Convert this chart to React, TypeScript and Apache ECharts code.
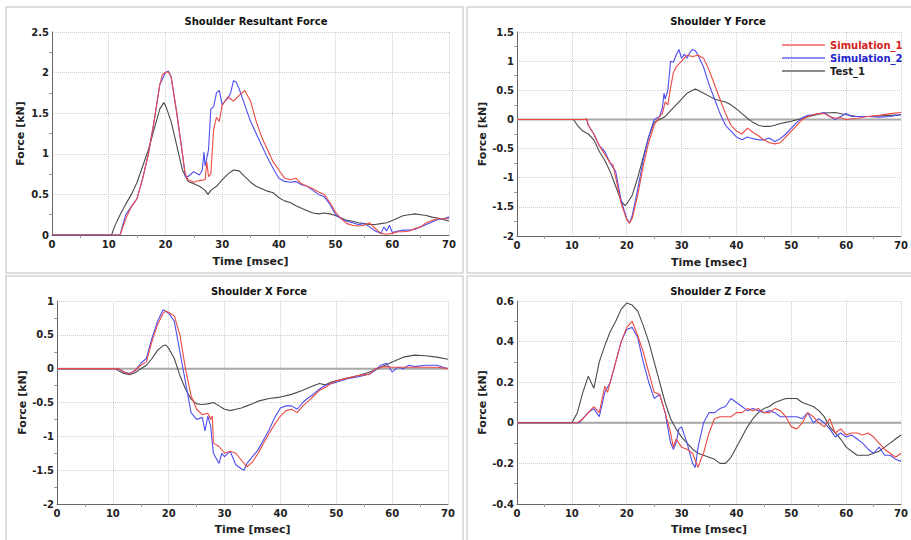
import React, { useEffect, useRef } from "react";
import * as echarts from "echarts";

type P = [number, number][];

const panelTitles = ["Shoulder Resultant Force", "Shoulder Y Force", "Shoulder X Force", "Shoulder Z Force"];
const seriesNames = ["Simulation_1", "Simulation_2", "Test_1"];
const xName = "Time [msec]";
const yName = "Force [kN]";
const yRanges = [
  [0, 2.5, 0.5],
  [-2, 1.5, 0.5],
  [-2, 1, 0.5],
  [-0.4, 0.6, 0.2],
];

const resSim1: P = [[0,0],[12,0],[13,0.2],[14,0.35],[15,0.45],[16,0.7],[17,1.0],[18,1.4],[19,1.85],[19.5,1.98],[20,2.0],[20.5,2.01],[21,1.95],[22,1.5],[23,1.0],[23.5,0.75],[24,0.68],[25,0.65],[26,0.67],[27,0.68],[27.3,0.9],[27.6,0.72],[28,0.75],[28.5,1.3],[29,1.45],[29.5,1.4],[30,1.6],[31,1.7],[32,1.65],[33,1.72],[34,1.78],[35,1.65],[36,1.4],[37,1.2],[38,1.05],[39,0.9],[40,0.8],[41,0.7],[42,0.68],[43,0.7],[44,0.63],[45,0.6],[46,0.57],[47,0.53],[48,0.5],[49,0.4],[50,0.28],[51,0.2],[52,0.14],[53,0.12],[54,0.11],[55,0.12],[56,0.15],[57,0.08],[58,0.02],[59,0.01],[60,0.02],[61,0.04],[62,0.04],[63,0.05],[64,0.08],[65,0.1],[66,0.15],[67,0.18],[68,0.2],[69,0.2],[70,0.2]];
const resSim2: P = [[0,0],[12,0],[13,0.25],[14,0.35],[15,0.45],[16,0.7],[17,1.0],[18,1.4],[19,1.85],[20,2.0],[20.5,2.02],[21,1.95],[22,1.5],[23,1.0],[23.5,0.72],[24,0.72],[25,0.78],[26,0.74],[26.5,0.8],[26.8,1.02],[27,0.85],[27.3,0.95],[27.6,1.05],[28,1.55],[28.5,1.58],[29,1.75],[29.5,1.78],[30,1.6],[30.5,1.65],[31,1.68],[31.5,1.75],[32,1.9],[32.5,1.88],[33,1.8],[34,1.6],[35,1.4],[36,1.25],[37,1.1],[38,0.95],[39,0.82],[40,0.7],[41,0.66],[42,0.65],[43,0.66],[44,0.62],[45,0.6],[46,0.55],[47,0.5],[48,0.47],[49,0.38],[50,0.25],[51,0.2],[52,0.17],[53,0.15],[54,0.13],[55,0.14],[56,0.1],[57,0.05],[58,0.02],[58.5,0.1],[59,0.05],[59.5,0.12],[60,0.03],[61,0.05],[62,0.06],[63,0.06],[64,0.07],[65,0.1],[66,0.13],[67,0.16],[68,0.19],[69,0.2],[70,0.22]];
const resTest: P = [[0,0],[10.5,0],[11,0.1],[12,0.25],[13,0.38],[14,0.5],[15,0.65],[16,0.85],[17,1.05],[18,1.3],[19,1.55],[19.7,1.63],[20,1.6],[21,1.4],[22,1.1],[23,0.8],[24,0.66],[25,0.63],[26,0.6],[27,0.55],[27.5,0.5],[28,0.55],[29,0.6],[30,0.68],[31,0.75],[32,0.8],[33,0.79],[34,0.72],[35,0.65],[36,0.6],[37,0.57],[38,0.54],[39,0.52],[40,0.46],[41,0.42],[42,0.4],[43,0.36],[44,0.33],[45,0.3],[46,0.27],[47,0.26],[48,0.27],[49,0.26],[50,0.24],[51,0.21],[52,0.18],[53,0.17],[54,0.15],[55,0.14],[56,0.13],[57,0.13],[58,0.14],[59,0.15],[60,0.18],[61,0.21],[62,0.24],[63,0.25],[64,0.26],[65,0.25],[66,0.24],[67,0.22],[68,0.21],[69,0.19],[70,0.17]];

const ySim1: P = [[0,0],[12.5,0],[12.7,0.02],[13,-0.1],[14,-0.25],[15,-0.45],[16,-0.6],[17,-0.75],[17.5,-0.78],[18,-1.0],[19,-1.45],[20,-1.72],[20.5,-1.78],[21,-1.7],[22,-1.3],[23,-0.8],[24,-0.4],[25,-0.1],[26,0.05],[26.5,0.1],[27,0.3],[27.5,0.25],[28,0.55],[28.5,0.8],[29,0.9],[30,1.0],[30.5,1.05],[31,1.1],[32,1.08],[33,1.1],[34,1.05],[35,0.85],[36,0.6],[37,0.35],[38,0.1],[39,-0.1],[40,-0.2],[41,-0.25],[42,-0.15],[43,-0.22],[44,-0.28],[45,-0.35],[46,-0.4],[47,-0.42],[48,-0.4],[49,-0.3],[50,-0.2],[51,-0.1],[52,0.0],[53,0.05],[54,0.08],[55,0.1],[56,0.1],[57,0.05],[58,0.02],[59,0.03],[60,0.0],[62,0.02],[64,0.05],[66,0.07],[68,0.1],[70,0.12]];
const ySim2: P = [[0,0],[12.7,0],[13,-0.1],[14,-0.25],[15,-0.45],[16,-0.55],[17,-0.75],[18,-0.9],[19,-1.4],[20,-1.7],[20.5,-1.78],[21,-1.65],[22,-1.2],[23,-0.7],[24,-0.3],[25,0.0],[26,0.05],[26.5,0.2],[26.8,0.45],[27,0.35],[27.5,0.5],[28,1.0],[28.5,0.98],[29,1.1],[29.5,1.2],[30,1.05],[30.5,1.12],[31,1.05],[31.5,1.15],[32,1.2],[32.5,1.18],[33,1.1],[34,0.9],[35,0.6],[36,0.35],[37,0.1],[38,-0.1],[39,-0.2],[40,-0.3],[41,-0.35],[42,-0.3],[43,-0.33],[44,-0.35],[45,-0.35],[46,-0.32],[47,-0.38],[48,-0.33],[49,-0.25],[50,-0.15],[51,-0.05],[52,0.03],[53,0.07],[54,0.08],[55,0.1],[56,0.12],[57,0.05],[58,0.0],[59,0.05],[60,0.1],[61,0.05],[62,0.05],[64,0.05],[66,0.04],[68,0.05],[70,0.08]];
const yTest: P = [[0,0],[10.3,0],[11,-0.1],[12,-0.2],[13,-0.25],[14,-0.35],[15,-0.55],[16,-0.7],[17,-0.9],[18,-1.15],[19,-1.4],[19.7,-1.48],[20,-1.45],[21,-1.3],[22,-1.0],[23,-0.65],[24,-0.3],[25,-0.05],[26,0.0],[27,0.05],[28,0.15],[29,0.25],[30,0.35],[31,0.45],[32,0.5],[32.5,0.52],[33,0.5],[34,0.45],[35,0.4],[36,0.35],[37,0.32],[38,0.3],[39,0.25],[40,0.18],[41,0.1],[42,0.02],[43,-0.05],[44,-0.1],[45,-0.12],[46,-0.12],[47,-0.1],[48,-0.07],[49,-0.05],[50,-0.03],[52,0.02],[54,0.07],[56,0.11],[58,0.12],[60,0.08],[62,0.05],[64,0.05],[66,0.06],[68,0.07],[70,0.08]];

const xSim1: P = [[0,0],[11,0],[12,-0.05],[13,-0.08],[14,-0.02],[15,0.05],[16,0.1],[17,0.4],[18,0.65],[19,0.82],[19.5,0.85],[20,0.83],[21,0.78],[22,0.5],[23,0.0],[24,-0.4],[25,-0.6],[26,-0.68],[27,-0.66],[27.5,-0.75],[27.8,-0.7],[28,-1.1],[29,-1.15],[30,-1.25],[31,-1.22],[32,-1.25],[33,-1.35],[34,-1.45],[35,-1.38],[36,-1.25],[37,-1.1],[38,-0.95],[39,-0.82],[40,-0.7],[41,-0.62],[42,-0.6],[43,-0.65],[44,-0.55],[45,-0.48],[46,-0.4],[47,-0.32],[48,-0.28],[49,-0.22],[50,-0.18],[52,-0.14],[54,-0.1],[56,-0.08],[57,0.0],[58,0.02],[59,0.03],[60,0.02],[62,0.02],[64,0.02],[66,0.02],[68,0.02],[70,0.0]];
const xSim2: P = [[0,0],[11,0],[12,-0.05],[13,-0.07],[14,-0.03],[15,0.08],[16,0.15],[17,0.45],[18,0.7],[19,0.87],[20,0.82],[21,0.7],[22,0.25],[23,-0.2],[24,-0.65],[25,-0.75],[26,-0.72],[26.5,-0.92],[27,-0.7],[27.5,-0.85],[28,-1.25],[29,-1.4],[29.5,-1.25],[30,-1.3],[31,-1.22],[32,-1.42],[33,-1.48],[33.5,-1.5],[34,-1.4],[35,-1.3],[36,-1.2],[37,-1.05],[38,-0.9],[39,-0.72],[40,-0.58],[41,-0.55],[42,-0.55],[43,-0.6],[44,-0.5],[45,-0.43],[46,-0.37],[47,-0.3],[48,-0.25],[50,-0.2],[52,-0.15],[54,-0.12],[56,-0.08],[57,-0.02],[58,0.05],[59,0.08],[60,-0.05],[61,0.02],[62,0.0],[63,0.05],[64,0.03],[66,0.05],[68,0.05],[70,0.0]];
const xTest: P = [[0,0],[10.5,0],[11,-0.03],[12,-0.07],[13,-0.09],[14,-0.06],[15,0.0],[16,0.05],[17,0.15],[18,0.27],[19,0.34],[19.5,0.35],[20,0.3],[21,0.15],[22,-0.1],[23,-0.3],[24,-0.45],[25,-0.52],[26,-0.53],[27,-0.52],[28,-0.5],[29,-0.55],[30,-0.6],[31,-0.62],[32,-0.6],[33,-0.58],[34,-0.55],[35,-0.52],[36,-0.48],[38,-0.44],[40,-0.42],[42,-0.38],[44,-0.32],[46,-0.25],[47,-0.22],[48,-0.24],[49,-0.2],[50,-0.18],[52,-0.14],[54,-0.1],[56,-0.05],[58,0.02],[60,0.1],[62,0.17],[64,0.2],[66,0.19],[68,0.17],[70,0.14]];

const zSim1: P = [[0,0],[11,0],[12,0.02],[13,0.05],[14,0.08],[15,0.05],[16,0.18],[16.5,0.15],[17,0.2],[18,0.3],[19,0.4],[20,0.47],[21,0.5],[22,0.43],[23,0.35],[24,0.25],[25,0.15],[26,0.14],[27,0.05],[28,-0.05],[28.5,-0.12],[29,-0.08],[30,-0.12],[31,-0.13],[32,-0.15],[33,-0.22],[33.5,-0.18],[34,-0.15],[35,-0.05],[36,0.02],[37,0.03],[38,0.03],[39,0.03],[40,0.05],[41,0.05],[42,0.07],[43,0.06],[44,0.07],[45,0.05],[46,0.05],[47,0.07],[48,0.06],[49,0.03],[50,-0.02],[51,-0.03],[52,0.0],[53,0.05],[54,0.03],[55,0.0],[56,-0.02],[57,0.02],[58,-0.05],[59,-0.03],[60,-0.06],[61,-0.05],[62,-0.05],[63,-0.06],[64,-0.05],[65,-0.07],[66,-0.1],[67,-0.13],[68,-0.15],[69,-0.17],[70,-0.15]];
const zSim2: P = [[0,0],[11.3,0],[12,0.02],[13,0.05],[14,0.07],[15,0.03],[16,0.15],[17,0.2],[18,0.3],[19,0.4],[20,0.46],[21,0.47],[22,0.42],[23,0.3],[24,0.2],[25,0.12],[26,0.14],[27,0.05],[28,-0.1],[28.5,-0.13],[29,-0.1],[29.5,-0.03],[30,-0.02],[31,-0.1],[32,-0.2],[32.5,-0.22],[33,-0.12],[34,0.0],[35,0.05],[36,0.05],[37,0.07],[38,0.08],[39,0.12],[40,0.1],[41,0.08],[42,0.06],[43,0.07],[44,0.06],[45,0.05],[46,0.06],[47,0.05],[48,0.03],[49,0.03],[50,0.03],[51,0.03],[52,0.02],[53,0.05],[54,0.0],[55,0.02],[56,0.0],[57,-0.03],[58,-0.07],[59,-0.05],[60,-0.07],[61,-0.06],[62,-0.08],[63,-0.1],[64,-0.13],[65,-0.15],[66,-0.12],[67,-0.16],[68,-0.16],[69,-0.18],[70,-0.19]];
const zTest: P = [[0,0],[10,0],[11,0.05],[12,0.15],[13,0.23],[13.5,0.2],[14,0.17],[15,0.3],[16,0.38],[17,0.45],[18,0.5],[19,0.56],[20,0.59],[21,0.58],[22,0.55],[23,0.48],[24,0.4],[25,0.3],[26,0.2],[27,0.1],[28,0.02],[29,-0.03],[30,-0.07],[31,-0.1],[32,-0.13],[33,-0.15],[34,-0.16],[35,-0.17],[36,-0.18],[37,-0.2],[38,-0.2],[39,-0.17],[40,-0.12],[41,-0.07],[42,-0.02],[43,0.02],[44,0.05],[45,0.07],[46,0.08],[47,0.1],[48,0.11],[49,0.12],[50,0.12],[51,0.12],[52,0.1],[53,0.09],[54,0.08],[55,0.06],[56,0.03],[57,-0.02],[58,-0.05],[59,-0.08],[60,-0.12],[61,-0.14],[62,-0.16],[63,-0.16],[64,-0.16],[65,-0.15],[66,-0.14],[67,-0.12],[68,-0.1],[69,-0.08],[70,-0.06]];

const panelData: P[][] = [
  [resSim1, resSim2, resTest],
  [ySim1, ySim2, yTest],
  [xSim1, xSim2, xTest],
  [zSim1, zSim2, zTest],
];

const lineColors = ["#ec4a44", "#4e4ef0", "#4a4a4a"];
const legendLineColors = ["#f08a86", "#8c8cf4", "#8a8a8a"];
const legendTextColors = ["#d42222", "#2222cc", "#222222"];
const FONT = "DejaVu Sans";

export default function App() {
  const ref = useRef<HTMLDivElement>(null);
  useEffect(() => {
    if (!ref.current) return;
    const chart = echarts.init(ref.current, undefined, { renderer: "svg" });
    const grids = [
      { left: 52, top: 32, width: 397, height: 203 },
      { left: 517, top: 32, width: 392, height: 204 },
      { left: 57, top: 301, width: 391, height: 203 },
      { left: 517, top: 301, width: 392, height: 203 },
    ];
    const yNameGaps = [26, 27, 29, 28];
    const xNameGaps = [21, 21, 20, 20];
    const xAxis = grids.map((_, i) => ({
      type: "value",
      gridIndex: i,
      min: 0,
      max: 70,
      interval: 10,
      name: xName,
      nameLocation: "middle",
      nameGap: xNameGaps[i],
      nameTextStyle: { fontFamily: FONT, fontWeight: "bold", fontSize: 11, color: "#222" },
      axisLine: { show: true, onZero: false, lineStyle: { color: "#666", width: 1 } },
      axisTick: { show: false },
      minorTick: { show: true, splitNumber: 2, length: 3, lineStyle: { color: "#999" } },
      axisLabel: { fontFamily: FONT, fontWeight: "bold", fontSize: 10, color: "#222", margin: 4 },
      splitLine: { show: true, lineStyle: { color: "#cfcfcf", type: "dotted", width: 1 } },
    }));
    const yAxis = grids.map((_, i) => ({
      type: "value",
      gridIndex: i,
      min: yRanges[i][0],
      max: yRanges[i][1],
      interval: yRanges[i][2],
      name: yName,
      nameLocation: "middle",
      nameGap: yNameGaps[i],
      nameTextStyle: { fontFamily: FONT, fontWeight: "bold", fontSize: 11, color: "#222" },
      axisLine: { show: true, onZero: false, lineStyle: { color: "#666", width: 1 } },
      axisTick: { show: false },
      minorTick: { show: true, splitNumber: 2, length: 3, lineStyle: { color: "#999" } },
      axisLabel: { fontFamily: FONT, fontWeight: "bold", fontSize: 10, color: "#222", margin: 3 },
      splitLine: { show: true, lineStyle: { color: "#cfcfcf", type: "dotted", width: 1 } },
    }));
    const series: any[] = [];
    panelData.forEach((sets, i) => {
      if (i > 0) {
        series.push({
          type: "line",
          name: "zero" + i,
          xAxisIndex: i,
          yAxisIndex: i,
          data: [[0, 0], [70, 0]],
          showSymbol: false,
          silent: true,
          z: 1,
          lineStyle: { color: "#a8a8a8", width: 2 },
        });
      }
      sets.forEach((d, j) => {
        series.push({
          type: "line",
          name: seriesNames[j],
          xAxisIndex: i,
          yAxisIndex: i,
          data: d,
          showSymbol: false,
          symbol: "none",
          z: 5 - j,
          lineStyle: { color: lineColors[j], width: 1.1 },
          itemStyle: { color: lineColors[j] },
        });
      });
    });
    const titleCenters = [251, 713, 254, 713];
    const titleTops = [11, 11, 281, 281];
    chart.setOption({
      animation: false,
      backgroundColor: "#ffffff",
      title: panelTitles.map((t, i) => ({
        text: t,
        left: titleCenters[i],
        top: titleTops[i],
        textAlign: "center",
        textStyle: { fontFamily: FONT, fontWeight: "bold", fontSize: 10, color: "#111" },
      })),
      legend: {
        orient: "vertical",
        left: 777,
        top: 35,
        itemWidth: 43,
        itemHeight: 2,
        itemGap: 3,
        icon: "rect",
        data: seriesNames.map((n, j) => ({
          name: n,
          itemStyle: { color: legendLineColors[j] },
          textStyle: { color: legendTextColors[j], fontFamily: FONT, fontWeight: "bold", fontSize: 10 },
        })),
      },
      graphic: [
        { type: "rect", shape: { x: 6, y: 7, width: 457, height: 266 }, style: { fill: "none", stroke: "#d4d4d4", lineWidth: 1.5 }, z: -1 },
        { type: "rect", shape: { x: 467, y: 7, width: 450, height: 266 }, style: { fill: "none", stroke: "#d4d4d4", lineWidth: 1.5 }, z: -1 },
        { type: "rect", shape: { x: 6, y: 276, width: 457, height: 270 }, style: { fill: "none", stroke: "#d4d4d4", lineWidth: 1.5 }, z: -1 },
        { type: "rect", shape: { x: 467, y: 276, width: 450, height: 270 }, style: { fill: "none", stroke: "#d4d4d4", lineWidth: 1.5 }, z: -1 },
      ],
      grid: grids,
      xAxis,
      yAxis,
      series,
    });
    return () => chart.dispose();
  }, []);
  return <div ref={ref} style={{ position: "fixed", left: 0, top: 0, width: 911, height: 540 }} />;
}
